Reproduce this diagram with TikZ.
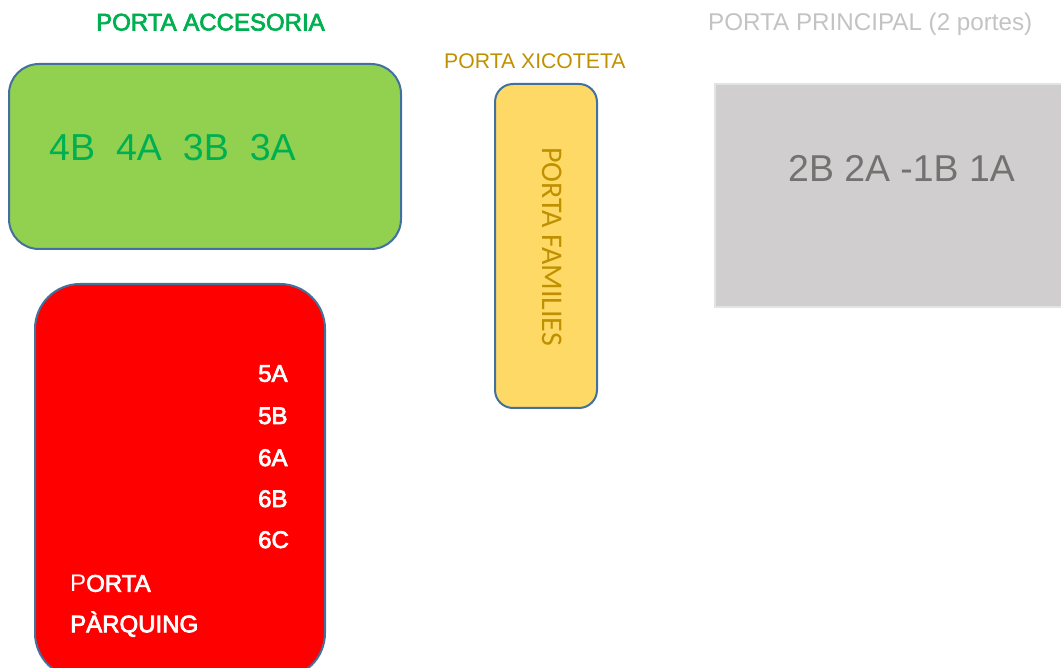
\documentclass[tikz,border=0pt]{standalone}
\usepackage{fontspec}
\setmainfont{Liberation Sans}
\newfontfamily\calibri{Carlito}
\newfontfamily\gruix{Liberation Sans}[FakeBold=3]
\usepackage{xcolor}
\definecolor{vora}{HTML}{41719C}
\definecolor{verdclar}{HTML}{92D050}
\definecolor{verdtext}{HTML}{00B050}
\definecolor{groc}{HTML}{FFD966}
\definecolor{groctext}{HTML}{BF9000}
\definecolor{gris}{HTML}{D0CECE}
\definecolor{grisvora}{HTML}{E4E3E3}
\definecolor{gristext}{HTML}{C3C3C3}
\definecolor{grisfosc}{HTML}{767171}

\begin{document}
\begin{tikzpicture}[x=1pt,y=-1pt]
\tikzset{
    porta/.style={%
        draw=vora, line width=2pt,
        rectangle, inner sep=0pt
        },
    etiq/.style={%
        inner sep=0pt, anchor=base west
        },
    pis/.style={%
        etiq, text=white,
        font=\gruix\fontsize{24}{28}\selectfont
        },
}
\useasboundingbox (0,0) rectangle (1061,668);
\clip (0,0) rectangle (1061,668);
%%%PORTES
\node[porta, fill=verdclar, rounded corners=30pt,
      minimum width=392pt, minimum height=185pt] (acc) at (205,156.5) {};
\node[porta, fill=groc, rounded corners=18pt,
      minimum width=102pt, minimum height=324pt] (xic) at (546,246) {};
\node[porta, draw=grisvora, fill=gris,
      minimum width=365pt, minimum height=223pt] (princ) at (897.5,195.5) {};
\node[porta, fill=red, rounded corners=45pt,
      minimum width=290pt, minimum height=394pt] (parq) at (180,481) {};
%%%TITOLS
\node[etiq, text=verdtext, font=\gruix\fontsize{24}{28}\selectfont] (tacc) at (96,30.5) {PORTA ACCESORIA};
\node[etiq, text=groctext, font=\fontsize{21.2}{25}\selectfont] (txic) at (444,68.5) {PORTA XICOTETA};
\node[etiq, text=gristext, font=\fontsize{24.2}{28}\selectfont] (tprinc) at (708,31) {PORTA PRINCIPAL (2 portes)};
%%%PISOS
\node[etiq, text=verdtext, font=\fontsize{37.6}{44}\selectfont] (pacc) at (49,160.5) {4B\ \ 4A\ \ 3B\ \ 3A};
\node[etiq, text=grisfosc, font=\fontsize{37.4}{44}\selectfont] (pprinc) at (788,182) {2B 2A -1B 1A};
\node[text=groctext, inner sep=0pt, rotate=-90, font=\calibri\fontsize{30}{34}\selectfont]
     (fam) at (552.5,246.5) {PORTA FAMILIES};
\node[pis] (p5a) at (258,381.7) {5A};
\node[pis] (p5b) at (258,424) {5B};
\node[pis] (p6a) at (258,466) {6A};
\node[pis] (p6b) at (258,507) {6B};
\node[pis] (p6c) at (258,548) {6C};
\node[pis] (tparq1) at (70,591.7) {{\normalfont\fontsize{24}{28}\selectfont P}ORTA};
\node[pis] (tparq2) at (70,632.3) {PÀRQUING};
\end{tikzpicture}
\end{document}
